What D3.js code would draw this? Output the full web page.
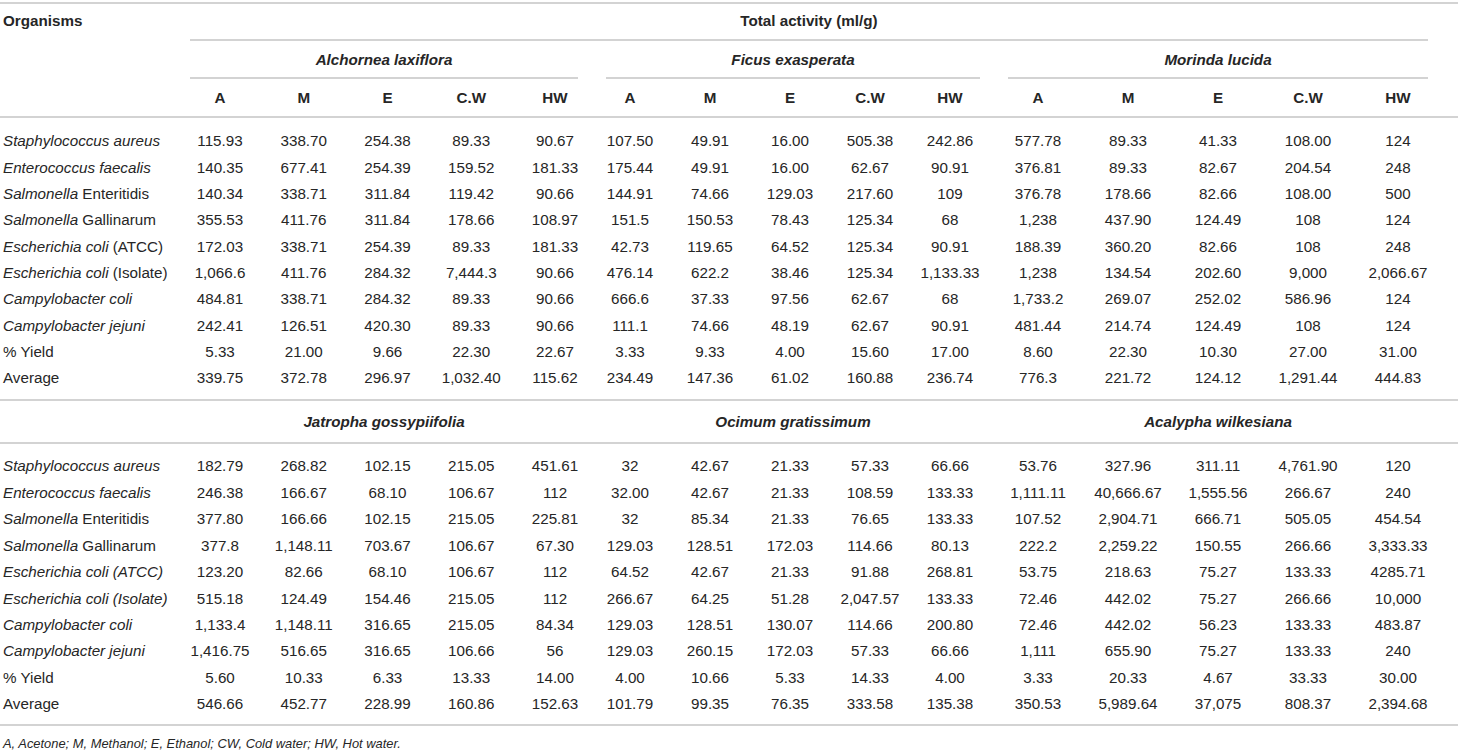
<!DOCTYPE html>
<html>
<head>
<meta charset="utf-8">
<script src="https://cdn.jsdelivr.net/npm/d3@7"></script>
<style>
  body { margin: 0; background: #fff; }
  text { font-family: "Liberation Sans", Arial, sans-serif; fill: #262626; }
</style>
</head>
<body>
<div id="table"></div>
<script>
// Column headers
const solvents = ["A", "M", "E", "C.W", "HW"];
const plantsTop = ["Alchornea laxiflora", "Ficus exasperata", "Morinda lucida"];
const plantsBottom = ["Jatropha gossypiifolia", "Ocimum gratissimum", "Acalypha wilkesiana"];

// Row labels: [text, italic] pieces
const rowsTop = [
  [["Staphylococcus aureus", true]],
  [["Enterococcus faecalis", true]],
  [["Salmonella", true], [" Enteritidis", false]],
  [["Salmonella", true], [" Gallinarum", false]],
  [["Escherichia coli", true], [" (ATCC)", false]],
  [["Escherichia coli", true], [" (Isolate)", false]],
  [["Campylobacter coli", true]],
  [["Campylobacter jejuni", true]],
  [["% Yield", false]],
  [["Average", false]]
];
const rowsBottom = [
  [["Staphylococcus aureus", true]],
  [["Enterococcus faecalis", true]],
  [["Salmonella", true], [" Enteritidis", false]],
  [["Salmonella", true], [" Gallinarum", false]],
  [["Escherichia coli (ATCC)", true]],
  [["Escherichia coli (Isolate)", true]],
  [["Campylobacter coli", true]],
  [["Campylobacter jejuni", true]],
  [["% Yield", false]],
  [["Average", false]]
];

// Values per plant, rows x solvents (A, M, E, C.W, HW)
const alchornea = [
  ["115.93", "338.70", "254.38", "89.33", "90.67"],
  ["140.35", "677.41", "254.39", "159.52", "181.33"],
  ["140.34", "338.71", "311.84", "119.42", "90.66"],
  ["355.53", "411.76", "311.84", "178.66", "108.97"],
  ["172.03", "338.71", "254.39", "89.33", "181.33"],
  ["1,066.6", "411.76", "284.32", "7,444.3", "90.66"],
  ["484.81", "338.71", "284.32", "89.33", "90.66"],
  ["242.41", "126.51", "420.30", "89.33", "90.66"],
  ["5.33", "21.00", "9.66", "22.30", "22.67"],
  ["339.75", "372.78", "296.97", "1,032.40", "115.62"]
];
const ficus = [
  ["107.50", "49.91", "16.00", "505.38", "242.86"],
  ["175.44", "49.91", "16.00", "62.67", "90.91"],
  ["144.91", "74.66", "129.03", "217.60", "109"],
  ["151.5", "150.53", "78.43", "125.34", "68"],
  ["42.73", "119.65", "64.52", "125.34", "90.91"],
  ["476.14", "622.2", "38.46", "125.34", "1,133.33"],
  ["666.6", "37.33", "97.56", "62.67", "68"],
  ["111.1", "74.66", "48.19", "62.67", "90.91"],
  ["3.33", "9.33", "4.00", "15.60", "17.00"],
  ["234.49", "147.36", "61.02", "160.88", "236.74"]
];
const morinda = [
  ["577.78", "89.33", "41.33", "108.00", "124"],
  ["376.81", "89.33", "82.67", "204.54", "248"],
  ["376.78", "178.66", "82.66", "108.00", "500"],
  ["1,238", "437.90", "124.49", "108", "124"],
  ["188.39", "360.20", "82.66", "108", "248"],
  ["1,238", "134.54", "202.60", "9,000", "2,066.67"],
  ["1,733.2", "269.07", "252.02", "586.96", "124"],
  ["481.44", "214.74", "124.49", "108", "124"],
  ["8.60", "22.30", "10.30", "27.00", "31.00"],
  ["776.3", "221.72", "124.12", "1,291.44", "444.83"]
];
const jatropha = [
  ["182.79", "268.82", "102.15", "215.05", "451.61"],
  ["246.38", "166.67", "68.10", "106.67", "112"],
  ["377.80", "166.66", "102.15", "215.05", "225.81"],
  ["377.8", "1,148.11", "703.67", "106.67", "67.30"],
  ["123.20", "82.66", "68.10", "106.67", "112"],
  ["515.18", "124.49", "154.46", "215.05", "112"],
  ["1,133.4", "1,148.11", "316.65", "215.05", "84.34"],
  ["1,416.75", "516.65", "316.65", "106.66", "56"],
  ["5.60", "10.33", "6.33", "13.33", "14.00"],
  ["546.66", "452.77", "228.99", "160.86", "152.63"]
];
const ocimum = [
  ["32", "42.67", "21.33", "57.33", "66.66"],
  ["32.00", "42.67", "21.33", "108.59", "133.33"],
  ["32", "85.34", "21.33", "76.65", "133.33"],
  ["129.03", "128.51", "172.03", "114.66", "80.13"],
  ["64.52", "42.67", "21.33", "91.88", "268.81"],
  ["266.67", "64.25", "51.28", "2,047.57", "133.33"],
  ["129.03", "128.51", "130.07", "114.66", "200.80"],
  ["129.03", "260.15", "172.03", "57.33", "66.66"],
  ["4.00", "10.66", "5.33", "14.33", "4.00"],
  ["101.79", "99.35", "76.35", "333.58", "135.38"]
];
const acalypha = [
  ["53.76", "327.96", "311.11", "4,761.90", "120"],
  ["1,111.11", "40,666.67", "1,555.56", "266.67", "240"],
  ["107.52", "2,904.71", "666.71", "505.05", "454.54"],
  ["222.2", "2,259.22", "150.55", "266.66", "3,333.33"],
  ["53.75", "218.63", "75.27", "133.33", "4285.71"],
  ["72.46", "442.02", "75.27", "266.66", "10,000"],
  ["72.46", "442.02", "56.23", "133.33", "483.87"],
  ["1,111", "655.90", "75.27", "133.33", "240"],
  ["3.33", "20.33", "4.67", "33.33", "30.00"],
  ["350.53", "5,989.64", "37,075", "808.37", "2,394.68"]
];

const footnote = "A, Acetone; M, Methanol; E, Ethanol; CW, Cold water; HW, Hot water.";

// Canvas
const width = 1458;
const height = 752;
const fontSize = 15.2;
const lineColor = "#c4c4c4";

const svg = d3.select("#table").append("svg")
  .attr("width", width)
  .attr("height", height);

// Group spans (underline extents) and column positions
const groupSpans = [[190, 578], [606, 980], [1008, 1428]];
const colRanges = [[220, 555], [630, 950], [1038, 1398]];
const colScales = colRanges.map(r => d3.scalePoint().domain(solvents).range(r));

function hline(x1, x2, y) {
  svg.append("line")
    .attr("x1", x1).attr("x2", x2)
    .attr("y1", y).attr("y2", y)
    .attr("stroke", lineColor)
    .attr("stroke-width", 1.6);
}

function label(x, y, txt, opts = {}) {
  return svg.append("text")
    .attr("x", x).attr("y", y)
    .attr("dy", "0.35em")
    .attr("text-anchor", opts.anchor || "middle")
    .attr("font-size", opts.size || fontSize)
    .attr("font-weight", opts.bold ? "bold" : null)
    .attr("font-style", opts.italic ? "italic" : null)
    .text(txt);
}

// Header block
hline(0, width, 3);
label(3, 21, "Organisms", { anchor: "start", bold: true });
label((groupSpans[0][0] + groupSpans[2][1]) / 2, 21, "Total activity (ml/g)", { bold: true });
hline(groupSpans[0][0], groupSpans[2][1], 40);

plantsTop.forEach((p, i) => {
  const [a, b] = groupSpans[i];
  label((a + b) / 2, 60, p, { bold: true, italic: true });
  hline(a, b, 78);
  solvents.forEach(s => label(colScales[i](s), 98, s, { bold: true }));
});
hline(0, width, 117);

// Body rows
function drawBody(rows, groups, y0, y1) {
  const y = d3.scalePoint().domain(d3.range(rows.length)).range([y0, y1]);
  rows.forEach((pieces, r) => {
    const t = svg.append("text")
      .attr("x", 3).attr("y", y(r))
      .attr("dy", "0.35em")
      .attr("font-size", fontSize);
    pieces.forEach(([s, it]) => {
      t.append("tspan").attr("font-style", it ? "italic" : "normal").text(s);
    });
    groups.forEach((g, gi) => {
      solvents.forEach((s, c) => label(colScales[gi](s), y(r), g[r][c]));
    });
  });
}

drawBody(rowsTop, [alchornea, ficus, morinda], 141, 378);
hline(0, width, 400);

plantsBottom.forEach((p, i) => {
  const [a, b] = groupSpans[i];
  label((a + b) / 2, 422, p, { bold: true, italic: true });
});
hline(0, width, 443);

drawBody(rowsBottom, [jatropha, ocimum, acalypha], 466, 704);
hline(0, width, 725);

label(3, 743, footnote, { anchor: "start", italic: true, size: 12.9 });
</script>
</body>
</html>
